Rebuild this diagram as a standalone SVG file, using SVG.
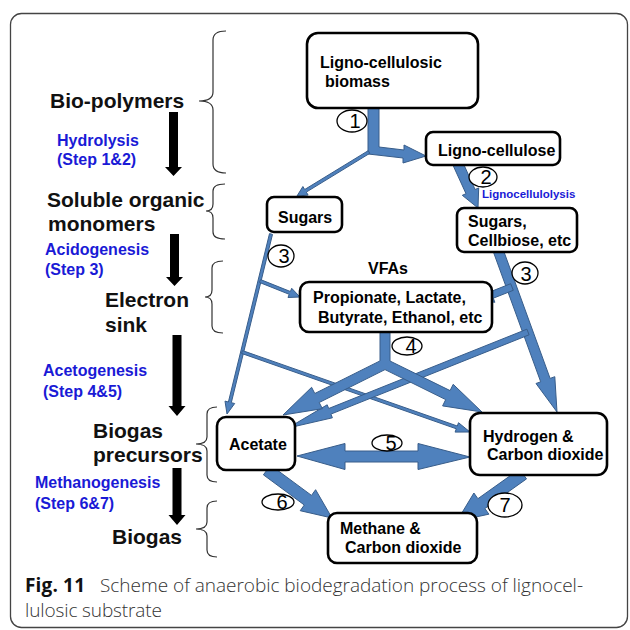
<svg xmlns="http://www.w3.org/2000/svg" width="630" height="630" viewBox="0 0 630 630">
<style>
.frame{fill:none;stroke:#444;stroke-width:1.3}
.box{fill:#fff;stroke:#000;stroke-width:2.6}
.bt{font-family:"Liberation Sans",Arial,sans-serif;font-weight:bold;font-size:16px;fill:#000}
.lt{font-family:"Liberation Sans",Arial,sans-serif;font-weight:bold;font-size:21px;fill:#111}
.st{font-family:"Liberation Sans",Arial,sans-serif;font-weight:bold;font-size:16px;fill:#1a1ad6}
.num{font-family:"Liberation Sans",Arial,sans-serif;font-size:20px;fill:#000;text-anchor:middle}
.ell{fill:#fff;stroke:#000;stroke-width:1.3}
.br{fill:none;stroke:#333;stroke-width:1.2}
.ba{fill:#000}
.arr{fill:#4f81bd;stroke:#385d8a;stroke-width:1}
.cap{font-family:"Open Sans","Liberation Sans",sans-serif;font-size:19px;fill:#333;font-weight:300}
.capb{font-family:"Open Sans","Liberation Sans",sans-serif;font-size:19px;fill:#111;font-weight:bold}
</style>
<rect class="frame" x="10.5" y="13.5" width="617" height="614" rx="11"/>

<g id="stage-labels">
<text class="lt" x="50" y="108">Bio-polymers</text>
<text class="st" x="57" y="146">Hydrolysis</text>
<text class="st" x="57" y="165">(Step 1&amp;2)</text>
<text class="lt" x="47" y="207">Soluble organic</text>
<text class="lt" x="48" y="231">monomers</text>
<text class="st" x="45" y="255">Acidogenesis</text>
<text class="st" x="45" y="275">(Step 3)</text>
<text class="lt" x="105" y="307">Electron</text>
<text class="lt" x="105" y="332">sink</text>
<text class="st" x="43" y="376">Acetogenesis</text>
<text class="st" x="43" y="397">(Step 4&amp;5)</text>
<text class="lt" x="93" y="438">Biogas</text>
<text class="lt" x="93" y="462">precursors</text>
<text class="st" x="35" y="488">Methanogenesis</text>
<text class="st" x="35" y="509">(Step 6&amp;7)</text>
<text class="lt" x="112" y="544">Biogas</text>
</g>

<g id="stage-arrows">
<polygon class="ba" points="169,112 178,112 178,167 182,167 173.5,176 165,167 169,167"/>
<polygon class="ba" points="170,234 179,234 179,277 183,277 174.5,286 166,277 170,277"/>
<polygon class="ba" points="172.5,335 181.5,335 181.5,406 185.5,406 177,416 168.5,406 172.5,406"/>
<polygon class="ba" points="172.5,468 181.5,468 181.5,515 185.5,515 177,525 168.5,515 172.5,515"/>
</g>

<g id="braces">
<path class="br" d="M226,31 Q213,31 213,40 L213,92 Q213,101 199,101 Q213,101 213,110 L213,164 Q213,173 226,173"/>
<path class="br" d="M225,184 Q213,184 213,191 L213,204 Q213,211 206,211 Q213,211 213,218 L213,232 Q213,239 225,239"/>
<path class="br" d="M223,261 Q212,261 212,268 L212,290 Q212,297 205,297 Q212,297 212,304 L212,326 Q212,333 223,333"/>
<path class="br" d="M217,407 Q207,407 207,414 L207,437 Q207,444 196,444 Q207,444 207,451 L207,475 Q207,482 217,482"/>
<path class="br" d="M217,501 Q207,501 207,508 L207,522 Q207,529 196,529 Q207,529 207,536 L207,550 Q207,557 217,557"/>
</g>

<g id="connectors">
<polygon class="arr" points="368,105 379,105 379,147 404,150 404,145 426,156 403,163 403,158 377,155 368,154"/>
<polygon class="arr" points="368.2,150.7 304.7,189.5 302.9,186.5 297,196 308.1,195.1 306.3,192.1 369.8,153.3"/>
<polygon class="arr" points="453.4,166.1 466,193.7 462.3,195.3 478,208 478.7,187.9 475.1,189.5 462.6,161.9"/>
<polygon class="arr" points="269.5,233.6 228.4,402 225,401.1 227,414 234.7,403.5 231.3,402.7 272.5,234.4"/>
<polygon class="arr" points="259.4,282.4 289.2,294.3 288,297.5 300,297 291.7,288.3 290.4,291.5 260.6,279.6"/>
<polygon class="arr" points="241.5,353.4 456.3,428.8 455.1,432.1 470,432 458.5,422.7 457.3,426 242.5,350.6"/>
<polygon class="arr" points="493.3,251.7 540.7,381.8 536,383.5 557,412 554.8,376.7 550.1,378.4 502.7,248.3"/>
<polygon class="arr" points="510.7,283.7 490.7,291.6 489.1,287.5 479,300 494.9,302.3 493.3,298.2 513.3,290.3"/>
<polygon class="arr" points="526.9,329.2 328.7,408.5 327.2,404.8 288,428 332.4,417.8 330.9,414.1 529.1,334.8"/>
<polygon class="arr" points="380,330 380,360.9 314.8,393.5 311.6,387.3 283,415 322.4,408.7 319.2,402.5 385,369.6 445.7,399.6 442.6,405.9 482,412 453.2,384.3 450.1,390.6 390,361 390,330"/>
<polygon class="arr" points="297,456 345,443.5 345,451 418,451 418,443.5 470,457 418,469.5 418,462 345,462 345,469.5"/>
<polygon class="arr" points="263.4,474.8 304.3,505 300.2,510.7 332,518 315.6,489.7 311.5,495.4 270.6,465.2"/>
<polygon class="arr" points="519.5,469.1 477.9,498.7 473.9,493 457,521 488.9,514.2 484.9,508.5 526.5,478.9"/>
</g>

<g id="node-biomass">
<rect class="box" x="307" y="33" width="171" height="75" rx="11"/>
<text class="bt" x="320" y="68">Ligno-cellulosic</text>
<text class="bt" x="325" y="87">biomass</text>
</g>
<g id="node-lignocellulose">
<rect class="box" x="426" y="132" width="134" height="33" rx="7"/>
<text class="bt" x="438" y="156">Ligno-cellulose</text>
</g>
<g id="node-sugars">
<rect class="box" x="267" y="197" width="75" height="35" rx="7"/>
<text class="bt" x="278" y="223">Sugars</text>
</g>
<g id="node-cellbiose">
<rect class="box" x="457" y="208" width="120" height="44" rx="7"/>
<text class="bt" x="468" y="227">Sugars,</text>
<text class="bt" x="468" y="246">Cellbiose, etc</text>
</g>
<g id="node-vfas">
<text class="bt" x="368" y="274">VFAs</text>
<rect class="box" x="300" y="282" width="192" height="50" rx="9"/>
<text class="bt" x="313" y="303">Propionate, Lactate,</text>
<text class="bt" x="318" y="323">Butyrate, Ethanol, etc</text>
</g>
<g id="node-acetate">
<rect class="box" x="217" y="417" width="78" height="53" rx="9"/>
<text class="bt" x="229" y="450">Acetate</text>
</g>
<g id="node-hydrogen">
<rect class="box" x="470" y="413" width="137" height="62" rx="10"/>
<text class="bt" x="483" y="442">Hydrogen &amp;</text>
<text class="bt" x="487" y="460">Carbon dioxide</text>
</g>
<g id="node-methane">
<rect class="box" x="328" y="513" width="149" height="50" rx="9"/>
<text class="bt" x="340" y="534">Methane &amp;</text>
<text class="bt" x="345" y="553">Carbon dioxide</text>
</g>

<g id="step-numbers">
<ellipse class="ell" cx="352" cy="121" rx="15" ry="11"/><text class="num" x="355" y="128">1</text>
<ellipse class="ell" cx="483" cy="177" rx="14" ry="10"/><text class="num" x="486" y="184">2</text>
<text class="st" style="font-size:11.5px" x="482" y="198">Lignocellulolysis</text>
<ellipse class="ell" cx="281" cy="256" rx="13" ry="11"/><text class="num" x="284" y="263">3</text>
<ellipse class="ell" cx="525" cy="273" rx="13" ry="11"/><text class="num" x="526" y="281">3</text>
<ellipse class="ell" cx="407" cy="346" rx="15" ry="9"/><text class="num" x="411" y="353">4</text>
<ellipse class="ell" cx="387" cy="443" rx="15" ry="8"/><text class="num" x="391" y="450">5</text>
<ellipse class="ell" cx="278" cy="502" rx="16" ry="8"/><text class="num" x="282" y="509">6</text>
<ellipse class="ell" cx="505" cy="505" rx="17" ry="12"/><text class="num" x="505" y="512">7</text>
</g>

<g id="caption">
<text x="25" y="592"><tspan class="capb" textLength="60">Fig. 11</tspan><tspan class="cap" x="100" textLength="483">Scheme of anaerobic biodegradation process of lignocel-</tspan></text>
<text class="cap" x="25" y="617" textLength="137">lulosic substrate</text>
</g>
</svg>
